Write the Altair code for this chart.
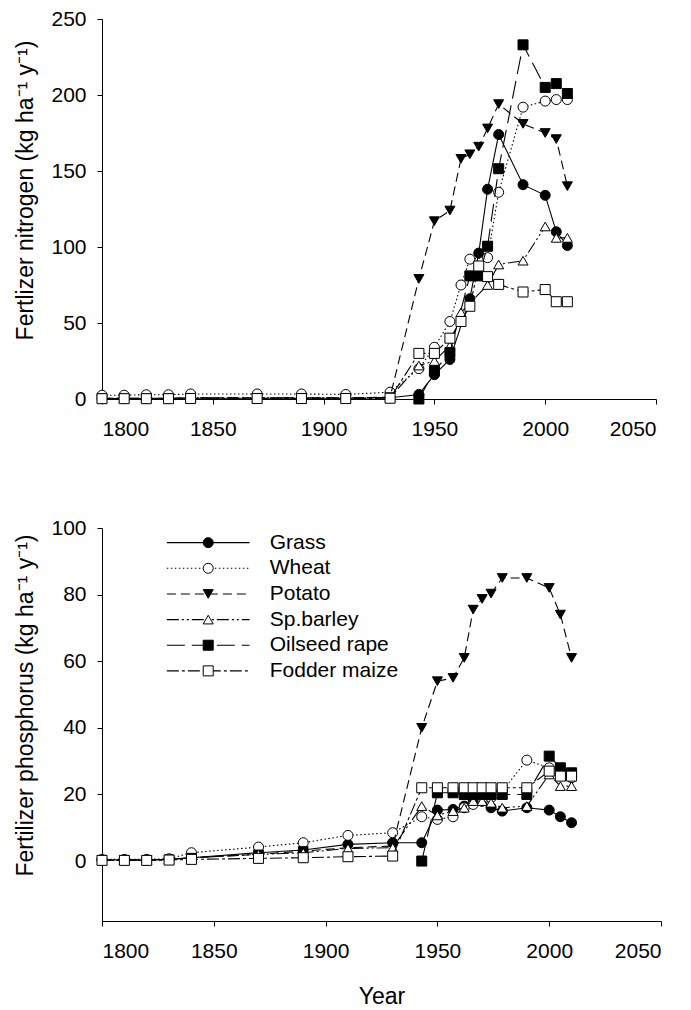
import altair as alt
import pandas as pd

series = ["Grass", "Wheat", "Potato", "Sp.barley", "Oilseed rape", "Fodder maize"]

early_years = [1800, 1810, 1820, 1830, 1840, 1870, 1890, 1910, 1930]
late_years = [1943, 1950, 1957, 1962, 1966, 1970, 1974, 1979, 1990, 2000, 2005, 2010]

# ---------------- Nitrogen (top panel) ----------------
n_grass_years = early_years + [1943, 1950, 1957, 1966, 1970, 1974, 1979, 1990, 2000, 2005, 2010]
n_grass = [0.3, 0.3, 0.3, 0.3, 0.5, 0.5, 0.5, 0.5, 0.8,
           3, 16, 26, 66, 96, 138, 174, 141, 134, 110, 101]
n_wheat_years = early_years + [1943, 1950, 1957, 1962, 1966, 1974, 1979, 1990, 2000, 2005, 2010]
n_wheat = [2.5, 2.5, 2.8, 2.8, 3.3, 3.3, 3.3, 3.0, 4.5,
           20, 34, 51, 75, 92, 93, 136, 192, 196, 197, 197]
n_potato_years = early_years + late_years
n_potato = [0.5, 0.5, 0.5, 0.5, 0.8, 0.8, 0.8, 0.8, 1.2,
            79, 117, 124, 158, 161, 166, 178, 194, 181, 175, 171, 140]
n_barley_years = early_years + [1943, 1950, 1957, 1962, 1974, 1979, 1990, 2000, 2005, 2010]
n_barley = [0.5, 0.5, 0.5, 0.5, 0.8, 0.8, 0.8, 0.8, 1.0,
            22, 25, 35, 57, 75, 88.5, 91, 113.5, 106, 106]
n_oilseed_years = [1943, 1950, 1957, 1966, 1970, 1974, 1979, 1990, 2000, 2005, 2010]
n_oilseed = [0, 18.5, 30.5, 81, 81, 100.5, 151.5, 233, 205, 207.5, 201]
n_fodder_years = early_years + late_years
n_fodder = [0.2, 0.2, 0.2, 0.2, 0.3, 0.3, 0.3, 0.3, 0.5,
            30, 30, 40, 51, 61, 87.5, 80.5, 75.4, 70.4, 72, 64, 64]

# ---------------- Phosphorus (bottom panel) ----------------
p_grass_years = early_years + late_years
p_grass = [0.3, 0.3, 0.3, 0.5, 1.0, 2.5, 3.3, 5.0, 5.5,
           5.5, 15.3, 15.5, 16.5, 18, 18, 16, 15, 16, 15.3, 13.3, 11.5]
p_wheat_years = early_years + late_years
p_wheat = [0.5, 0.5, 0.5, 0.7, 2.5, 4.2, 5.5, 7.7, 8.5,
           13.3, 12.5, 13.3, 16, 17, 18, 19, 21, 30.3, 28, 26, 25]
p_potato_years = early_years + late_years
p_potato = [0.3, 0.3, 0.3, 0.5, 1.0, 2.0, 3.0, 4.0, 4.5,
            40, 54, 55, 61, 75.5, 78.7, 80.3, 85, 85, 82, 74, 61]
p_barley_years = early_years + late_years
p_barley = [0.3, 0.3, 0.3, 0.5, 1.0, 2.0, 2.5, 3.8, 4.0,
            16.5, 13.7, 15, 16, 18, 18, 17.5, 16, 16.5, 26, 22.5, 22.5]
p_oilseed_years = late_years
p_oilseed = [0, 20.5, 20.5, 20, 20, 20, 20, 20, 20, 31.5, 28, 26.5]
p_fodder_years = early_years + late_years
p_fodder = [0.2, 0.2, 0.2, 0.3, 0.5, 0.8, 1.0, 1.3, 1.5,
            22, 22, 22, 22, 22, 22, 22, 22, 22, 27, 25.5, 25.5]


def long_frame(pairs):
    rows = []
    for s, (yrs, vals) in zip(series, pairs):
        for yr, v in zip(yrs, vals):
            rows.append({"series": s, "year": yr, "value": v})
    return pd.DataFrame(rows)


df_n = long_frame([(n_grass_years, n_grass), (n_wheat_years, n_wheat),
                   (n_potato_years, n_potato), (n_barley_years, n_barley),
                   (n_oilseed_years, n_oilseed), (n_fodder_years, n_fodder)])
df_p = long_frame([(p_grass_years, p_grass), (p_wheat_years, p_wheat),
                   (p_potato_years, p_potato), (p_barley_years, p_barley),
                   (p_oilseed_years, p_oilseed), (p_fodder_years, p_fodder)])

dash = {"Grass": None, "Wheat": [1.5, 2.5], "Potato": [9, 5],
        "Sp.barley": [12, 3, 2, 3, 2, 3], "Oilseed rape": [18, 7],
        "Fodder maize": [12, 3, 3, 3]}
shape = {"Grass": "circle", "Wheat": "circle", "Potato": "triangle-down",
         "Sp.barley": "triangle-up", "Oilseed rape": "square", "Fodder maize": "square"}
fill = {"Grass": "black", "Wheat": "white", "Potato": "black",
        "Sp.barley": "white", "Oilseed rape": "black", "Fodder maize": "white"}

FONT = "Liberation Sans"
x_ticks = [1800, 1850, 1900, 1950, 2000, 2050]


def line_kwargs(s):
    kw = dict(color="black", strokeWidth=1.1)
    if dash[s] is not None:
        kw["strokeDash"] = dash[s]
    return kw


def point_kwargs(s):
    return dict(shape=shape[s], filled=True, fill=fill[s], stroke="black",
                strokeWidth=1, size=100, opacity=1)


def panel(df, ydom, yvals, ytitle, xtitle, w, h, title_y, legend=False):
    xe = alt.X("year:Q", scale=alt.Scale(domain=[1800, 2050], nice=False, zero=False),
               axis=alt.Axis(values=x_ticks, format="d", title=xtitle,
                             labelPadding=14, titlePadding=24))
    ye = alt.Y("value:Q", scale=alt.Scale(domain=ydom, nice=False, zero=False),
               axis=alt.Axis(values=yvals, title=ytitle, labelPadding=11,
                             titleY=title_y, titlePadding=13))
    layers = []
    for s in series:
        base = alt.Chart(df).transform_filter(alt.datum.series == s)
        layers.append(base.mark_line(**line_kwargs(s)).encode(x=xe, y=ye))
        layers.append(base.mark_point(**point_kwargs(s)).encode(x=xe, y=ye))
    if legend:
        lg = pd.DataFrame({"series": series, "rank": list(range(len(series)))})
        lb = alt.Chart(lg).transform_calculate(
            ly="95.6 - 7.7 * datum.rank", x0="1829", x1="1866", xm="1847.5", xt="1875"
        )
        for s in series:
            b = lb.transform_filter(alt.datum.series == s)
            layers.append(b.mark_rule(**line_kwargs(s)).encode(
                x=alt.X("x0:Q"), x2="x1:Q", y=alt.Y("ly:Q")))
            layers.append(b.mark_point(**point_kwargs(s)).encode(
                x=alt.X("xm:Q"), y=alt.Y("ly:Q")))
        layers.append(lb.mark_text(align="left", baseline="middle", fontSize=21,
                                   font=FONT, color="black").encode(
            x=alt.X("xt:Q"), y=alt.Y("ly:Q"), text="series:N"))
    return alt.layer(*layers).properties(width=w, height=h)


top = panel(df_n, [0, 250], [0, 50, 100, 150, 200, 250],
            "Fertlizer nitrogen (kg ha\u207b\u00b9 y\u207b\u00b9)", None, 554, 380, 171)
bottom = panel(df_p, [-18, 100], [0, 20, 40, 60, 80, 100],
               "Fertilizer phosphorus (kg ha\u207b\u00b9 y\u207b\u00b9)", "Year", 559, 393, 177,
               legend=True)

chart = alt.vconcat(top, bottom, spacing=78).properties(
    padding={"left": 6, "top": 0, "right": 5, "bottom": 5}
).configure_view(stroke=None).configure_axis(
    grid=False, labelFont=FONT, titleFont=FONT, labelFontSize=21, titleFontSize=23,
    titleFontWeight="normal", labelColor="black", titleColor="black",
    domainColor="black", tickColor="black", tickSize=5, domainWidth=1, tickWidth=1
)

chart.save("out.html", embed_options={"renderer": "svg", "actions": False})
